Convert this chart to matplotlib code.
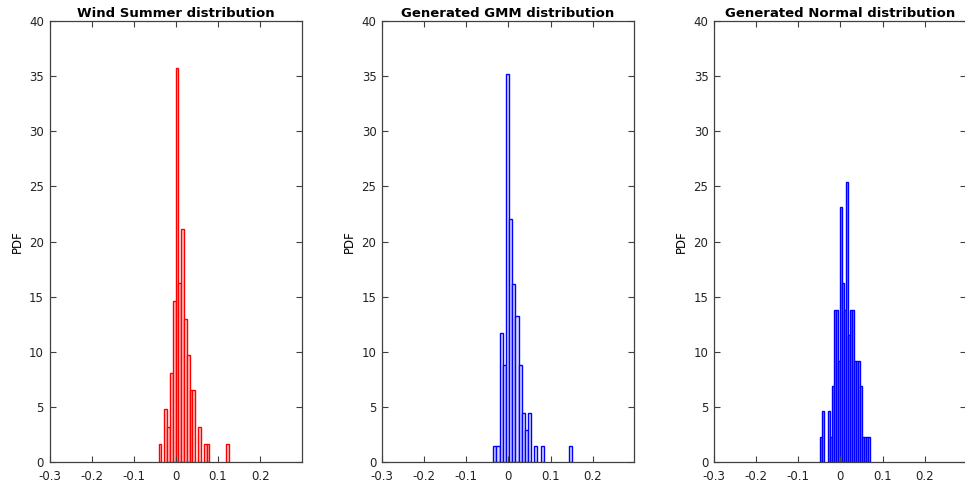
import matplotlib
matplotlib.use("Agg")
import matplotlib.pyplot as plt
import numpy as np

# histogram bins: left edge of first bin, bin width, PDF height per bin
wind_start = -0.0411
wind_width = 0.0067
wind_pdf = [1.6, 0, 4.85, 3.2, 8.1, 14.6, 35.7, 16.2, 21.1, 13.0, 9.7, 6.5, 6.5,
            0, 3.2, 0, 1.6, 1.6, 0, 0, 0, 0, 0, 0, 1.6]

gmm_start = -0.036
gmm_width = 0.0075
gmm_pdf = [1.47, 1.47, 11.7, 8.8, 35.2, 22.0, 16.1, 13.2, 8.8, 4.4, 2.9, 4.4, 0,
           1.47, 0, 1.47, 0, 0, 0, 0, 0, 0, 0, 0, 1.47]

normal_start = -0.0492
normal_width = 0.00478
normal_pdf = [2.3, 4.6, 0, 0, 4.6, 2.3, 6.9, 13.8, 13.8, 9.2, 23.1, 16.2, 13.8,
              25.4, 11.5, 13.8, 13.8, 9.2, 9.2, 9.2, 6.9, 2.3, 2.3, 2.3, 2.3]

titles = ["Wind Summer distribution", "Generated GMM distribution",
          "Generated Normal distribution"]
x_ticks = [-0.3, -0.2, -0.1, 0, 0.1, 0.2]
x_tick_labels = ["-0.3", "-0.2", "-0.1", "0", "0.1", "0.2"]
y_ticks = [0, 5, 10, 15, 20, 25, 30, 35, 40]

panels = [
    (wind_start, wind_width, wind_pdf, "#ff0000", "#ffc8c8"),
    (gmm_start, gmm_width, gmm_pdf, "#0000ff", "#d8d8ff"),
    (normal_start, normal_width, normal_pdf, "#0000ff", "#9090ff"),
]

W, H = 965, 483
fig = plt.figure(figsize=(W / 100, H / 100), dpi=100)
plt.rcParams["font.family"] = ["DejaVu Sans"]

lefts_px = [49.5, 382, 714]
for left, title, (start, width, pdf, edge, face) in zip(lefts_px, titles, panels):
    ax = fig.add_axes([left / W, 21 / H, 252 / W, 441 / H])
    pdf = np.array(pdf)
    edges = start + width * np.arange(len(pdf))
    keep = pdf > 0
    ax.bar(edges[keep], pdf[keep], width=width, align="edge",
           color=face, edgecolor=edge, linewidth=1.0)
    ax.set_xlim(-0.3, 0.298)
    ax.set_ylim(0, 40)
    ax.set_xticks(x_ticks)
    ax.set_xticklabels(x_tick_labels)
    ax.set_yticks(y_ticks)
    ax.tick_params(direction="in", length=4, width=0.8, top=True, right=True,
                   labelsize=8.5, colors="#404040", labelcolor="#222222")
    ax.tick_params(axis="x", pad=6)
    ax.tick_params(axis="y", pad=4)
    for spine in ax.spines.values():
        spine.set_color("#404040")
        spine.set_linewidth(0.9)
    ax.set_title(title, fontsize=9.5, fontweight="bold", pad=3)
    ax.set_ylabel("PDF", fontsize=8.5, labelpad=4)

fig.savefig("out.png", dpi=100)
